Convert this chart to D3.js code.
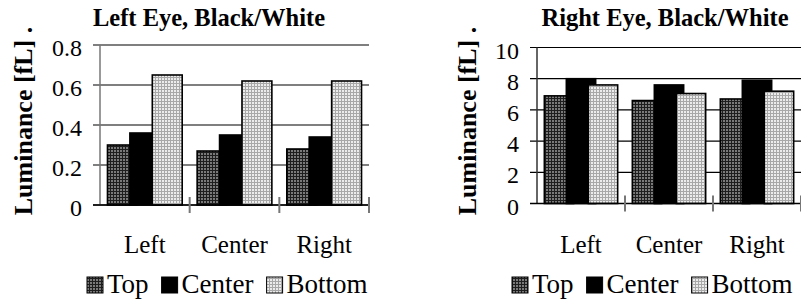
<!DOCTYPE html>
<html>
<head>
<meta charset="utf-8">
<script src="https://cdn.jsdelivr.net/npm/d3@7"></script>
<style>
  body { margin: 0; background: #fff; }
  svg { display: block; font-family: "Liberation Serif", "Times New Roman", serif; }
</style>
</head>
<body>
<div id="chart"></div>
<script>
// data
const categories = ["Left", "Center", "Right"];
const seriesNames = ["Top", "Center", "Bottom"];

const leftEyeTop = [0.30, 0.27, 0.28];
const leftEyeCenter = [0.36, 0.35, 0.34];
const leftEyeBottom = [0.65, 0.62, 0.62];
const leftTicks = [0, 0.2, 0.4, 0.6, 0.8];

const rightEyeTop = [6.9, 6.6, 6.7];
const rightEyeCenter = [8.0, 7.6, 7.9];
const rightEyeBottom = [7.6, 7.05, 7.2];
const rightTicks = [0, 2, 4, 6, 8, 10];

const fills = ["url(#patTop)", "#000", "url(#patBottom)"];

const svg = d3.select("#chart")
    .append("svg")
    .attr("width", 801)
    .attr("height", 300);

// fill patterns
const defs = svg.append("defs");
const pTop = defs.append("pattern").attr("id", "patTop")
    .attr("patternUnits", "userSpaceOnUse").attr("width", 3).attr("height", 3);
pTop.append("rect").attr("width", 3).attr("height", 3).attr("fill", "#1e1e1e");
pTop.append("rect").attr("width", 2).attr("height", 2).attr("fill", "#7a7a7a");
const pBot = defs.append("pattern").attr("id", "patBottom")
    .attr("patternUnits", "userSpaceOnUse").attr("width", 3).attr("height", 3);
pBot.append("rect").attr("width", 3).attr("height", 3).attr("fill", "#a8a8a8");
pBot.append("rect").attr("width", 2).attr("height", 2).attr("fill", "#ececec");

function drawChart(cfg) {
    const g = svg.append("g");

    const x = d3.scaleBand().domain(categories).range([cfg.x0, cfg.x1]).padding(0);
    const y = d3.scaleLinear().domain(cfg.domain).range([cfg.y0, cfg.yTop]);

    // gridlines (excel style, start at the tick mark)
    g.selectAll(".grid")
        .data(cfg.ticks)
        .join("line")
        .attr("x1", cfg.x0 - 7)
        .attr("x2", cfg.x1)
        .attr("y1", d => y(d))
        .attr("y2", d => y(d))
        .attr("stroke", "#000")
        .attr("stroke-width", 1.2);

    // y tick labels
    g.selectAll(".ylab")
        .data(cfg.ticks)
        .join("text")
        .attr("x", cfg.x0 - 18)
        .attr("y", d => y(d) + 11)
        .attr("text-anchor", "end")
        .attr("font-size", "24px")
        .text(d => d3.format("~g")(d));

    // bars, excel overlap: each bar is wider than its step
    const bw = x.bandwidth();
    const groupW = bw * 75 / 90;
    const barW = groupW / 2.5;
    const sx = d3.scalePoint().domain(seriesNames).range([0, 1.5 * barW]);
    const series = [cfg.top, cfg.center, cfg.bottom];

    categories.forEach((c, ci) => {
        const gx = x(c) + (bw - groupW) / 2;
        series.forEach((vals, si) => {
            g.append("rect")
                .attr("x", gx + sx(seriesNames[si]))
                .attr("y", y(vals[ci]))
                .attr("width", barW)
                .attr("height", y(0) - y(vals[ci]))
                .attr("fill", fills[si])
                .attr("stroke", "#000")
                .attr("stroke-width", 1.6);
        });
    });

    // axes
    g.append("line")
        .attr("x1", cfg.x0).attr("x2", cfg.x0)
        .attr("y1", cfg.yTop).attr("y2", cfg.y0)
        .attr("stroke", cfg.axisColor).attr("stroke-width", 1.5);
    g.append("line")
        .attr("x1", cfg.x0 - 7).attr("x2", cfg.x1)
        .attr("y1", cfg.y0).attr("y2", cfg.y0)
        .attr("stroke", "#000").attr("stroke-width", 1.5);

    // category separators
    g.selectAll(".xtick")
        .data(categories)
        .join("line")
        .attr("x1", d => x(d) + bw)
        .attr("x2", d => x(d) + bw)
        .attr("y1", cfg.y0 - 8)
        .attr("y2", cfg.y0 + 8)
        .attr("stroke", "#777")
        .attr("stroke-width", 2);

    g.selectAll(".xlab")
        .data(categories)
        .join("text")
        .attr("x", d => x(d) + bw / 2)
        .attr("y", 253)
        .attr("text-anchor", "middle")
        .attr("font-size", "25px")
        .text(d => d);

    // title
    g.append("text")
        .attr("x", cfg.titleX)
        .attr("y", 26)
        .attr("text-anchor", "middle")
        .attr("font-size", "24.5px")
        .attr("font-weight", "bold")
        .text(cfg.title);

    // y title
    g.append("text")
        .attr("transform", `translate(${cfg.ytX},121) rotate(-90)`)
        .attr("text-anchor", "middle")
        .attr("font-size", "26px")
        .attr("font-weight", "bold")
        .text("Luminance [fL] .");

    // legend
    let lx = cfg.legendX;
    seriesNames.forEach((s, si) => {
        g.append("rect")
            .attr("x", lx).attr("y", 277)
            .attr("width", 16).attr("height", 16)
            .attr("fill", fills[si])
            .attr("stroke", "#000")
            .attr("stroke-width", 1);
        const t = g.append("text")
            .attr("x", lx + 20)
            .attr("y", 293)
            .attr("font-size", "27px")
            .text(s);
        lx += 20 + t.node().getComputedTextLength() + 13;
    });
}

drawChart({
    title: "Left Eye, Black/White",
    titleX: 209,
    ytX: 32,
    x0: 100, x1: 369, y0: 205, yTop: 45,
    domain: [0, 0.8], ticks: leftTicks,
    top: leftEyeTop, center: leftEyeCenter, bottom: leftEyeBottom,
    axisColor: "#777",
    legendX: 87
});

drawChart({
    title: "Right Eye, Black/White",
    titleX: 665,
    ytX: 476,
    x0: 537, x1: 801, y0: 203.5, yTop: 47.5,
    domain: [0, 10], ticks: rightTicks,
    top: rightEyeTop, center: rightEyeCenter, bottom: rightEyeBottom,
    axisColor: "#333",
    legendX: 512
});
</script>
</body>
</html>
